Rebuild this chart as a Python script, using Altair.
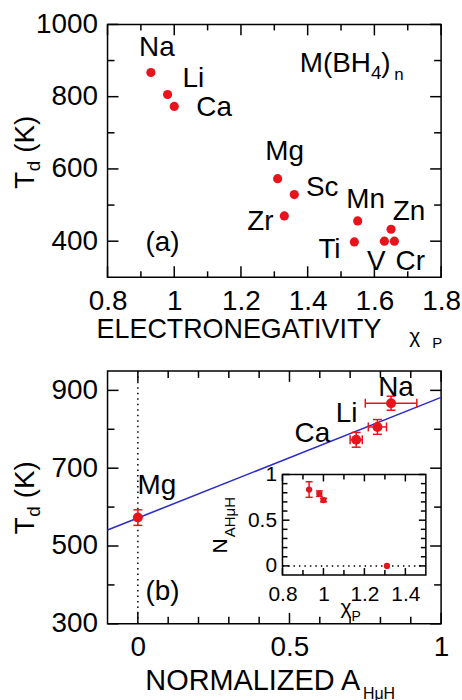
import altair as alt
import pandas as pd

FONT = "Liberation Sans"
RED = "#e8141c"
BLUE = "#2d2dc8"

# ---------------- data: panel (a) ----------------
elements_a = ["Na", "Li", "Ca", "Mg", "Sc", "Zr", "Mn", "Ti", "Zn", "V", "Cr"]
chi_a = [0.93, 0.98, 1.00, 1.31, 1.36, 1.33, 1.55, 1.54, 1.65, 1.63, 1.66]
td_a = [867, 806, 773, 573, 529, 470, 456, 398, 433, 400, 400]

# ---------------- data: panel (b) and inset ----------------
elements_b = ["Mg", "Ca", "Li", "Na"]
chi_b = [1.31, 1.00, 0.98, 0.93]
a_norm = [0.0, 0.72, 0.79, 0.835]
a_err = [0.0, 0.02, 0.03, 0.085]
td_b = [573, 773, 806, 867]
td_err = [20, 19, 19, 18]
fit_x = [-0.1, 1.0]
fit_y = [541, 882]

# ---------------- tick values ----------------
a_x_major = [0.8, 1.0, 1.2, 1.4, 1.6, 1.8]
a_x_minor = [0.9, 1.1, 1.3, 1.5, 1.7]
a_y_major = [400, 600, 800, 1000]
a_y_minor = [500, 700, 900]
b_x_major = [0, 0.5, 1.0]
b_x_minor = [0.1, 0.2, 0.3, 0.4, 0.6, 0.7, 0.8, 0.9]
b_y_major = [300, 500, 700, 900]
b_y_minor = [400, 600, 800]
in_x_major = [0.8, 1.0, 1.2, 1.4]
in_x_minor = [0.9, 1.1, 1.3]
in_y_major = [0, 0.5, 1.0]
in_y_minor = [0.1, 0.2, 0.3, 0.4, 0.6, 0.7, 0.8, 0.9]

# label offsets (pixels) relative to the points
offsets_a = {"Na": (6, -25), "Li": (26, -16), "Ca": (40, 2), "Mg": (7, -27),
             "Sc": (28, -7), "Zr": (-24, 6), "Mn": (8, -21), "Ti": (-25, 8),
             "Zn": (18, -17), "V": (-8, 21), "Cr": (16, 21)}
offsets_b = {"Mg": (19, -32), "Ca": (-44, -6), "Li": (-31, -13), "Na": (5, -15)}

W, H = 335, 254
IX0, IX1, IY0, IY1 = 175.7, 319.7, 205, 104

df_a = pd.DataFrame({"el": elements_a, "chi": chi_a, "td": td_a})
df_b = pd.DataFrame({"el": elements_b, "chi": chi_b, "a": a_norm, "aerr": a_err,
                     "td": td_b, "terr": td_err})
df_b["tlo"] = df_b.td - df_b.terr
df_b["thi"] = df_b.td + df_b.terr
df_b["alo"] = df_b.a - df_b.aerr
df_b["ahi"] = df_b.a + df_b.aerr
df_bx = df_b[df_b.aerr > 0].reset_index(drop=True)


def axis(values, size, pad, fmt="~g", **kw):
    return alt.Axis(values=values, format=fmt, title=None, ticks=False, tickSize=0,
                    domain=False, grid=False, labelFont=FONT, labelFontSize=size,
                    labelColor="black", labelPadding=pad, labelOverlap=False,
                    labelFlush=False, **kw)


def enc(ch, scale, ax):
    def f(field):
        if ch == "x":
            return alt.X(field, type="quantitative", scale=scale, axis=ax)
        return alt.Y(field, type="quantitative", scale=scale, axis=ax)
    return f


def tick_rules(values, ch, F, length, lo, hi):
    base = alt.Chart(pd.DataFrame({"v": values})).mark_rule(color="black", strokeWidth=1.5)
    if ch == "x":
        return [base.encode(x=F("v"), y=alt.value(lo), y2=alt.value(lo - length)),
                base.encode(x=F("v"), y=alt.value(hi), y2=alt.value(hi + length))]
    return [base.encode(y=F("v"), x=alt.value(lo), x2=alt.value(lo + length)),
            base.encode(y=F("v"), x=alt.value(hi), x2=alt.value(hi - length))]


def ptext(s, x, y, size, angle=0, align="left", baseline="alphabetic"):
    return alt.Chart(pd.DataFrame({"t": [s]})).mark_text(
        font=FONT, fontSize=size, color="black", align=align, baseline=baseline,
        angle=angle).encode(x=alt.value(x), y=alt.value(y), text="t:N")


def ytitle(x, y):
    return [ptext("T", x, y, 28, angle=270),
            ptext("d", x + 6, y - 17.5, 19, angle=270),
            ptext("(K)", x, y - 36, 28, angle=270)]


# ---------------- panel (a) ----------------
xa = alt.Scale(domain=[0.8, 1.8], nice=False, zero=False)
ya = alt.Scale(domain=[300, 1000], nice=False, zero=False)
XA = enc("x", xa, axis(a_x_major, 28, 10))
YA = enc("y", ya, axis(a_y_major, 28, 10, fmt="d"))

layers_a = (tick_rules(a_x_major, "x", XA, 11, H, 0) + tick_rules(a_x_minor, "x", XA, 6, H, 0)
            + tick_rules(a_y_major, "y", YA, 11, 0, W) + tick_rules(a_y_minor, "y", YA, 7, 0, W))
for el, (dx, dy) in offsets_a.items():
    layers_a.append(alt.Chart(df_a).transform_filter(alt.datum.el == el).mark_text(
        font=FONT, fontSize=28, color="black", dx=dx, dy=dy, align="center",
        baseline="middle").encode(x=XA("chi"), y=YA("td"), text="el:N"))
layers_a.append(alt.Chart(df_a).mark_circle(size=85, color=RED, opacity=1).encode(
    x=XA("chi"), y=YA("td")))
layers_a += [ptext("M(BH", 193, 48, 28), ptext("4", 264.5, 54.7, 19),
             ptext(")", 275, 48, 28), ptext("n", 288, 56, 17),
             ptext("(a)", 55.3, 220, 28, align="center", baseline="middle"),
             ptext("ELECTRONEGATIVITY", -11, 314.7, 27),
             ptext("χ", 303, 320.3, 21), ptext("P", 326, 325, 15)]
layers_a += ytitle(-74, 165)
panel_a = alt.layer(*layers_a).properties(width=W, height=H)

# ---------------- panel (b) ----------------
xb = alt.Scale(domain=[-0.1, 1.0], nice=False, zero=False)
yb = alt.Scale(domain=[300, 950], nice=False, zero=False)
XB = enc("x", xb, axis(b_x_major, 28, 10))
YB = enc("y", yb, axis(b_y_major, 28, 10, fmt="d"))

layers_b = (tick_rules(b_x_major, "x", XB, 11, H, 0) + tick_rules(b_x_minor, "x", XB, 7, H, 0)
            + tick_rules(b_y_major, "y", YB, 11, 0, W) + tick_rules(b_y_minor, "y", YB, 7, 0, W))
layers_b.append(alt.Chart(pd.DataFrame({"v": [0]})).mark_rule(
    color="black", strokeWidth=1.5, strokeDash=[1.5, 4]).encode(x=XB("v")))
layers_b.append(alt.Chart(pd.DataFrame({"x": fit_x, "y": fit_y})).mark_line(
    color=BLUE, strokeWidth=1.6).encode(x=XB("x"), y=YB("y")))
layers_b.append(alt.Chart(df_b).mark_rule(color=RED, strokeWidth=1.5).encode(
    x=XB("a"), y=YB("tlo"), y2=alt.Y2("thi")))
for f in ["tlo", "thi"]:
    layers_b.append(alt.Chart(df_b).mark_tick(color=RED, orient="horizontal", size=9,
                                              thickness=1.5, opacity=1).encode(x=XB("a"), y=YB(f)))
layers_b.append(alt.Chart(df_bx).mark_rule(color=RED, strokeWidth=1.5).encode(
    y=YB("td"), x=XB("alo"), x2=alt.X2("ahi")))
for f in ["alo", "ahi"]:
    layers_b.append(alt.Chart(df_bx).mark_tick(color=RED, orient="vertical", size=9,
                                               thickness=1.5, opacity=1).encode(x=XB(f), y=YB("td")))
layers_b.append(alt.Chart(df_b).mark_circle(size=100, color=RED, opacity=1).encode(
    x=XB("a"), y=YB("td")))
for el, (dx, dy) in offsets_b.items():
    layers_b.append(alt.Chart(df_b).transform_filter(alt.datum.el == el).mark_text(
        font=FONT, fontSize=28, color="black", dx=dx, dy=dy, align="center",
        baseline="middle").encode(x=XB("a"), y=YB("td"), text="el:N"))
layers_b += [ptext("(b)", 55.3, 222, 28, align="center", baseline="middle"),
             ptext("NORMALIZED A", 38, 320, 29), ptext("HμH", 256.5, 329, 16),
             ptext("N", 120, 183.3, 21, angle=270), ptext("AHμH", 128, 167, 15, angle=270),
             ptext("χ", 234, 244, 21), ptext("P", 245, 251.5, 14)]
layers_b += ytitle(-74, 164)

# ---------------- inset ----------------
ix = alt.Scale(domain=[0.8, 1.5], range=[IX0, IX1], nice=False, zero=False)
iy = alt.Scale(domain=[-0.1, 1.0], range=[IY0, IY1], nice=False, zero=False)
IXF = enc("x", ix, axis(in_x_major, 21, 9, orient="bottom", offset=IY0 - H))
IYF = enc("y", iy, axis(in_y_major, 21, 6, orient="left", offset=-IX0))

layers_in = [alt.Chart(pd.DataFrame({"d": [0]})).mark_rect(
    fill="white", stroke="black", strokeWidth=1.5).encode(
    x=alt.value(IX0), x2=alt.value(IX1), y=alt.value(IY1), y2=alt.value(IY0))]
layers_in.append(alt.Chart(pd.DataFrame({"v": [0]})).mark_rule(
    color="black", strokeWidth=1.5, strokeDash=[1.5, 4]).encode(
    y=IYF("v"), x=alt.value(IX0), x2=alt.value(IX1)))
layers_in += (tick_rules(in_x_major, "x", IXF, 7, IY0, IY1) + tick_rules(in_x_minor, "x", IXF, 5, IY0, IY1)
              + tick_rules(in_y_major, "y", IYF, 7, IX0, IX1) + tick_rules(in_y_minor, "y", IYF, 5, IX0, IX1))
layers_in.append(alt.Chart(df_bx).mark_rule(color=RED, strokeWidth=1.5).encode(
    x=IXF("chi"), y=IYF("alo"), y2=alt.Y2("ahi")))
for f in ["alo", "ahi"]:
    layers_in.append(alt.Chart(df_bx).mark_tick(color=RED, orient="horizontal", size=7,
                                                thickness=1.5, opacity=1).encode(x=IXF("chi"), y=IYF(f)))
layers_in.append(alt.Chart(df_b).mark_circle(size=40, color=RED, opacity=1).encode(
    x=IXF("chi"), y=IYF("a")))

panel_b = alt.layer(alt.layer(*layers_b), alt.layer(*layers_in)).resolve_scale(
    x="independent", y="independent").properties(width=W, height=H)

chart = alt.vconcat(panel_a, panel_b, spacing=17).properties(
    padding={"left": 11, "top": 8, "right": 0, "bottom": 0},
    background="white",
).configure_view(stroke="black", strokeWidth=1.5)

chart.save("out.html", embed_options={"renderer": "svg", "actions": False})
